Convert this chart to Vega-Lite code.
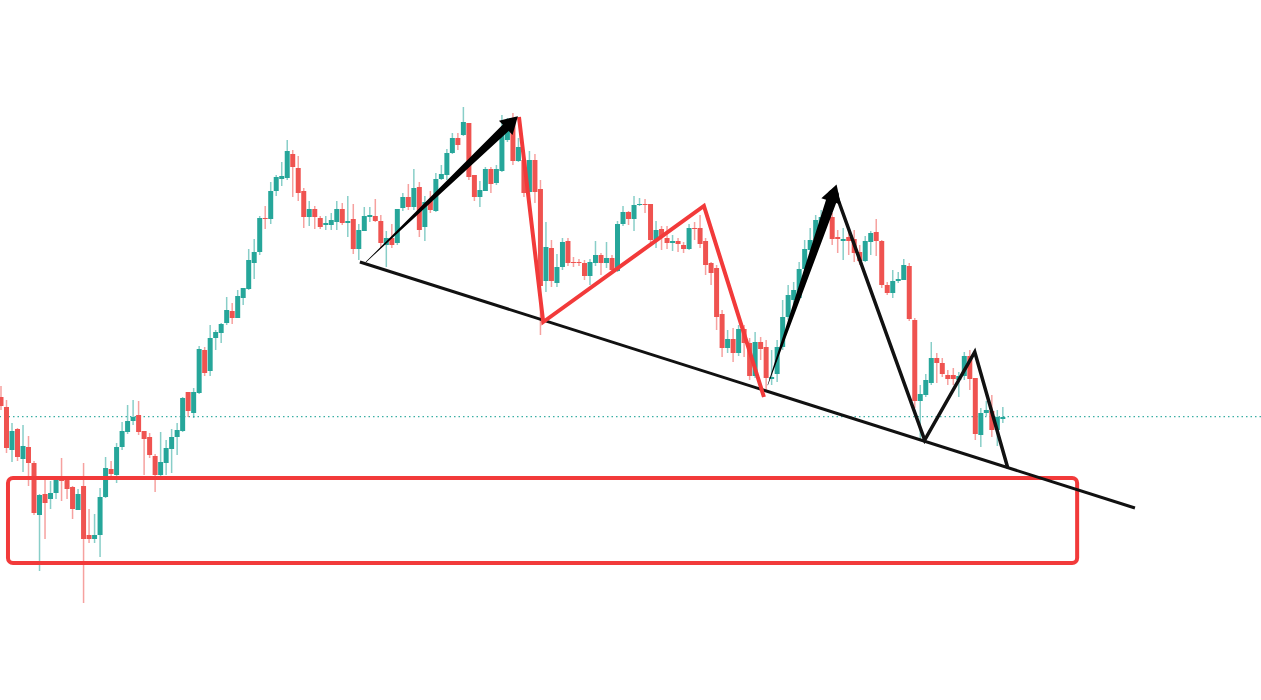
{
  "$schema": "https://vega.github.io/schema/vega-lite/v6.json",
  "autosize": {"type": "none"},
  "width": 1261,
  "height": 700,
  "padding": 0,
  "background": "white",
  "config": {"view": {"stroke": null}},
  "datasets": {
    "candles": [
      {"t":0,"o":303,"h":314,"l":290,"c":294},
      {"t":1,"o":293,"h":300,"l":247,"c":252},
      {"t":2,"o":250,"h":277,"l":238,"c":269},
      {"t":3,"o":271,"h":272,"l":239,"c":243},
      {"t":4,"o":241,"h":275,"l":228,"c":254},
      {"t":5,"o":253,"h":264,"l":214,"c":237},
      {"t":6,"o":237,"h":239,"l":185,"c":187},
      {"t":7,"o":185,"h":206,"l":129,"c":205},
      {"t":8,"o":206,"h":220,"l":161,"c":197},
      {"t":9,"o":201,"h":219,"l":191,"c":207},
      {"t":10,"o":207,"h":224,"l":201,"c":221},
      {"t":11,"o":221,"h":242,"l":199,"c":219},
      {"t":12,"o":220,"h":224,"l":201,"c":211},
      {"t":13,"o":213,"h":214,"l":181,"c":191},
      {"t":14,"o":190,"h":211,"l":190,"c":206},
      {"t":15,"o":214,"h":237,"l":97,"c":161},
      {"t":16,"o":165,"h":191,"l":157,"c":161},
      {"t":17,"o":161,"h":186,"l":157,"c":165},
      {"t":18,"o":165,"h":212,"l":143,"c":203},
      {"t":19,"o":203,"h":243,"l":202,"c":232},
      {"t":20,"o":231,"h":239,"l":223,"c":226},
      {"t":21,"o":225,"h":257,"l":217,"c":253},
      {"t":22,"o":253,"h":278,"l":250,"c":269},
      {"t":23,"o":268,"h":295,"l":266,"c":279},
      {"t":24,"o":279,"h":300,"l":275,"c":283},
      {"t":25,"o":285,"h":299,"l":265,"c":268},
      {"t":26,"o":269,"h":269,"l":225,"c":261},
      {"t":27,"o":263,"h":267,"l":242,"c":245},
      {"t":28,"o":244,"h":246,"l":208,"c":225},
      {"t":29,"o":225,"h":268,"l":220,"c":238},
      {"t":30,"o":237,"h":260,"l":225,"c":252},
      {"t":31,"o":251,"h":271,"l":227,"c":263},
      {"t":32,"o":263,"h":277,"l":245,"c":270},
      {"t":33,"o":269,"h":303,"l":268,"c":302},
      {"t":34,"o":308,"h":308,"l":283,"c":289},
      {"t":35,"o":287,"h":312,"l":282,"c":308},
      {"t":36,"o":307,"h":354,"l":306,"c":351},
      {"t":37,"o":350,"h":353,"l":324,"c":327},
      {"t":38,"o":329,"h":375,"l":324,"c":362},
      {"t":39,"o":362,"h":370,"l":350,"c":368},
      {"t":40,"o":367,"h":377,"l":357,"c":376},
      {"t":41,"o":377,"h":403,"l":375,"c":390},
      {"t":42,"o":389,"h":397,"l":376,"c":382},
      {"t":43,"o":382,"h":410,"l":382,"c":404},
      {"t":44,"o":402,"h":412,"l":395,"c":412},
      {"t":45,"o":411,"h":451,"l":410,"c":440},
      {"t":46,"o":437,"h":461,"l":421,"c":448},
      {"t":47,"o":448,"h":484,"l":445,"c":482},
      {"t":48,"o":482,"h":494,"l":471,"c":481},
      {"t":49,"o":481,"h":518,"l":476,"c":509},
      {"t":50,"o":509,"h":525,"l":504,"c":523},
      {"t":51,"o":521,"h":538,"l":514,"c":524},
      {"t":52,"o":522,"h":560,"l":520,"c":549},
      {"t":53,"o":546,"h":550,"l":503,"c":533},
      {"t":54,"o":532,"h":544,"l":499,"c":507},
      {"t":55,"o":509,"h":512,"l":472,"c":483},
      {"t":56,"o":483,"h":499,"l":474,"c":491},
      {"t":57,"o":491,"h":494,"l":471,"c":483},
      {"t":58,"o":482,"h":484,"l":471,"c":473},
      {"t":59,"o":475,"h":484,"l":470,"c":477},
      {"t":60,"o":475,"h":487,"l":470,"c":480},
      {"t":61,"o":478,"h":499,"l":470,"c":491},
      {"t":62,"o":491,"h":497,"l":475,"c":477},
      {"t":63,"o":477,"h":504,"l":463,"c":479},
      {"t":64,"o":481,"h":496,"l":446,"c":451},
      {"t":65,"o":451,"h":476,"l":440,"c":470},
      {"t":66,"o":469,"h":493,"l":469,"c":484},
      {"t":67,"o":483,"h":493,"l":478,"c":485},
      {"t":68,"o":484,"h":501,"l":478,"c":479},
      {"t":69,"o":479,"h":485,"l":452,"c":457},
      {"t":70,"o":455,"h":469,"l":433,"c":462},
      {"t":71,"o":462,"h":476,"l":452,"c":455},
      {"t":72,"o":457,"h":491,"l":455,"c":491},
      {"t":73,"o":492,"h":507,"l":489,"c":503},
      {"t":74,"o":503,"h":516,"l":490,"c":493},
      {"t":75,"o":493,"h":531,"l":490,"c":512},
      {"t":76,"o":513,"h":518,"l":463,"c":470},
      {"t":77,"o":473,"h":504,"l":459,"c":498},
      {"t":78,"o":499,"h":509,"l":487,"c":490},
      {"t":79,"o":489,"h":527,"l":488,"c":521},
      {"t":80,"o":521,"h":535,"l":520,"c":526},
      {"t":81,"o":525,"h":551,"l":520,"c":547},
      {"t":82,"o":547,"h":567,"l":546,"c":562},
      {"t":83,"o":562,"h":567,"l":550,"c":555},
      {"t":84,"o":565,"h":593,"l":564,"c":578},
      {"t":85,"o":577,"h":577,"l":520,"c":523},
      {"t":86,"o":525,"h":525,"l":499,"c":503},
      {"t":87,"o":503,"h":519,"l":493,"c":510},
      {"t":88,"o":509,"h":533,"l":509,"c":531},
      {"t":89,"o":531,"h":533,"l":507,"c":516},
      {"t":90,"o":517,"h":535,"l":515,"c":531},
      {"t":91,"o":529,"h":585,"l":528,"c":567},
      {"t":92,"o":560,"h":582,"l":558,"c":575},
      {"t":93,"o":582,"h":587,"l":535,"c":539},
      {"t":94,"o":539,"h":562,"l":538,"c":553},
      {"t":95,"o":540,"h":550,"l":503,"c":507},
      {"t":96,"o":508,"h":549,"l":504,"c":540},
      {"t":97,"o":540,"h":546,"l":497,"c":508},
      {"t":98,"o":511,"h":520,"l":365,"c":414},
      {"t":99,"o":419,"h":478,"l":408,"c":453},
      {"t":100,"o":452,"h":460,"l":413,"c":419},
      {"t":101,"o":417,"h":446,"l":413,"c":433},
      {"t":102,"o":433,"h":462,"l":430,"c":458},
      {"t":103,"o":459,"h":462,"l":434,"c":437},
      {"t":104,"o":438,"h":443,"l":433,"c":437},
      {"t":105,"o":438,"h":441,"l":434,"c":437},
      {"t":106,"o":437,"h":440,"l":420,"c":424},
      {"t":107,"o":424,"h":441,"l":415,"c":438},
      {"t":108,"o":437,"h":459,"l":434,"c":445},
      {"t":109,"o":445,"h":447,"l":425,"c":437},
      {"t":110,"o":437,"h":458,"l":432,"c":442},
      {"t":111,"o":442,"h":445,"l":428,"c":430},
      {"t":112,"o":429,"h":479,"l":428,"c":476},
      {"t":113,"o":476,"h":494,"l":474,"c":488},
      {"t":114,"o":488,"h":489,"l":475,"c":481},
      {"t":115,"o":481,"h":504,"l":469,"c":495},
      {"t":116,"o":495,"h":502,"l":494,"c":496},
      {"t":117,"o":496,"h":501,"l":487,"c":495},
      {"t":118,"o":496,"h":496,"l":457,"c":460},
      {"t":119,"o":460,"h":479,"l":452,"c":470},
      {"t":120,"o":471,"h":474,"l":450,"c":463},
      {"t":121,"o":462,"h":474,"l":451,"c":457},
      {"t":122,"o":457,"h":465,"l":449,"c":459},
      {"t":123,"o":459,"h":462,"l":448,"c":456},
      {"t":124,"o":455,"h":458,"l":447,"c":451},
      {"t":125,"o":451,"h":476,"l":450,"c":472},
      {"t":126,"o":472,"h":478,"l":460,"c":471},
      {"t":127,"o":472,"h":485,"l":452,"c":456},
      {"t":128,"o":459,"h":462,"l":425,"c":435},
      {"t":129,"o":437,"h":438,"l":415,"c":427},
      {"t":130,"o":432,"h":435,"l":370,"c":383},
      {"t":131,"o":386,"h":390,"l":343,"c":352},
      {"t":132,"o":352,"h":370,"l":347,"c":361},
      {"t":133,"o":361,"h":372,"l":338,"c":347},
      {"t":134,"o":347,"h":375,"l":344,"c":371},
      {"t":135,"o":371,"h":375,"l":343,"c":357},
      {"t":136,"o":357,"h":362,"l":320,"c":324},
      {"t":137,"o":324,"h":368,"l":322,"c":358},
      {"t":138,"o":358,"h":363,"l":340,"c":351},
      {"t":139,"o":353,"h":360,"l":310,"c":322},
      {"t":140,"o":321,"h":350,"l":315,"c":323},
      {"t":141,"o":326,"h":360,"l":318,"c":353},
      {"t":142,"o":353,"h":400,"l":350,"c":383},
      {"t":143,"o":383,"h":415,"l":380,"c":405},
      {"t":144,"o":400,"h":418,"l":395,"c":410},
      {"t":145,"o":402,"h":438,"l":400,"c":431},
      {"t":146,"o":431,"h":460,"l":425,"c":451},
      {"t":147,"o":450,"h":472,"l":447,"c":460},
      {"t":148,"o":460,"h":485,"l":455,"c":480},
      {"t":149,"o":467,"h":490,"l":464,"c":483},
      {"t":150,"o":480,"h":490,"l":478,"c":484},
      {"t":151,"o":483,"h":487,"l":455,"c":461},
      {"t":152,"o":463,"h":470,"l":447,"c":461},
      {"t":153,"o":459,"h":472,"l":440,"c":461},
      {"t":154,"o":463,"h":472,"l":445,"c":459},
      {"t":155,"o":461,"h":470,"l":438,"c":447},
      {"t":156,"o":448,"h":455,"l":435,"c":439},
      {"t":157,"o":439,"h":464,"l":438,"c":459},
      {"t":158,"o":458,"h":469,"l":445,"c":467},
      {"t":159,"o":468,"h":481,"l":444,"c":459},
      {"t":160,"o":459,"h":460,"l":412,"c":415},
      {"t":161,"o":415,"h":418,"l":405,"c":407},
      {"t":162,"o":407,"h":430,"l":402,"c":419},
      {"t":163,"o":419,"h":428,"l":417,"c":421},
      {"t":164,"o":420,"h":441,"l":420,"c":435},
      {"t":165,"o":434,"h":437,"l":379,"c":381},
      {"t":166,"o":380,"h":382,"l":292,"c":299},
      {"t":167,"o":299,"h":315,"l":260,"c":306},
      {"t":168,"o":305,"h":326,"l":303,"c":320},
      {"t":169,"o":317,"h":358,"l":315,"c":342},
      {"t":170,"o":342,"h":347,"l":317,"c":337},
      {"t":171,"o":337,"h":342,"l":323,"c":326},
      {"t":172,"o":325,"h":330,"l":315,"c":321},
      {"t":173,"o":325,"h":332,"l":315,"c":321},
      {"t":174,"o":320,"h":328,"l":303,"c":324},
      {"t":175,"o":324,"h":348,"l":320,"c":344},
      {"t":176,"o":344,"h":350,"l":310,"c":321},
      {"t":177,"o":322,"h":322,"l":260,"c":266},
      {"t":178,"o":265,"h":292,"l":253,"c":287},
      {"t":179,"o":287,"h":299,"l":284,"c":290},
      {"t":180,"o":289,"h":305,"l":263,"c":270},
      {"t":181,"o":270,"h":290,"l":254,"c":283},
      {"t":182,"o":281,"h":293,"l":277,"c":283}
    ],
    "lastprice": [{"p":283.3}],
    "trend": [{"t":65.2,"p":438},{"t":206.0,"p":192}],
    "box": [{"t1":1.27,"t2":195.5,"p1":222,"p2":137}],
    "redzig": [{"k":0,"t":94.1,"p":583},{"k":1,"t":98.5,"p":378},{"k":2,"t":127.7,"p":494},{"k":3,"t":138.6,"p":303}],
    "blackzig": [{"k":0,"t":151.7,"p":506},{"k":1,"t":167.8,"p":260},{"k":2,"t":176.9,"p":348},{"k":3,"t":182.9,"p":232}],
    "arrow1": [{"k":0,"t":66.3,"p":438,"w":0.5},{"k":1,"t":92.6,"p":577,"w":9}],
    "arrow2": [{"k":0,"t":139.3,"p":315,"w":0.5},{"k":1,"t":151.2,"p":505,"w":11}],
    "head1": [{"t":92.8,"p":578}],
    "head2": [{"t":151.3,"p":507}]
  },
  "layer": [
    {
      "data": {"name": "lastprice"},
      "mark": {"type": "rule", "color": "#26a69a", "strokeWidth": 1.2, "strokeDash": [1.5, 3], "opacity": 0.9},
      "encoding": {"y": {"field": "p", "type": "quantitative", "scale": {"domain": [0, 700], "nice": false, "zero": false}, "axis": null}}
    },
    {
      "data": {"name": "candles"},
      "mark": {"type": "rule", "strokeWidth": 1.5, "opacity": 0.55},
      "encoding": {
        "x": {"field": "t", "type": "quantitative", "scale": {"domain": [-0.18, 228.9], "nice": false, "zero": false, "padding": 0}, "axis": null},
        "y": {"field": "l", "type": "quantitative"},
        "y2": {"field": "h"},
        "color": {"condition": {"test": "datum.c >= datum.o", "value": "#26a69a"}, "value": "#ef5350"}
      }
    },
    {
      "data": {"name": "candles"},
      "mark": {"type": "bar", "size": 5},
      "encoding": {
        "x": {"field": "t", "type": "quantitative"},
        "y": {"field": "o", "type": "quantitative"},
        "y2": {"field": "c"},
        "color": {"condition": {"test": "datum.c >= datum.o", "value": "#26a69a"}, "value": "#ef5350"}
      }
    },
    {
      "data": {"name": "box"},
      "mark": {"type": "rect", "fillOpacity": 0, "stroke": "#f23a3a", "strokeWidth": 4, "cornerRadius": 5},
      "encoding": {
        "x": {"field": "t1", "type": "quantitative"},
        "x2": {"field": "t2"},
        "y": {"field": "p1", "type": "quantitative"},
        "y2": {"field": "p2"}
      }
    },
    {
      "data": {"name": "trend"},
      "mark": {"type": "line", "color": "#111111", "strokeWidth": 3},
      "encoding": {
        "x": {"field": "t", "type": "quantitative"},
        "y": {"field": "p", "type": "quantitative"}
      }
    },
    {
      "data": {"name": "redzig"},
      "mark": {"type": "line", "color": "#f23a3a", "strokeWidth": 4, "strokeJoin": "miter"},
      "encoding": {
        "x": {"field": "t", "type": "quantitative"},
        "y": {"field": "p", "type": "quantitative"},
        "order": {"field": "k"}
      }
    },
    {
      "data": {"name": "blackzig"},
      "mark": {"type": "line", "color": "#111111", "strokeWidth": 3.5, "strokeJoin": "miter"},
      "encoding": {
        "x": {"field": "t", "type": "quantitative"},
        "y": {"field": "p", "type": "quantitative"},
        "order": {"field": "k"}
      }
    },
    {
      "data": {"name": "arrow1"},
      "mark": {"type": "trail", "color": "#000000"},
      "encoding": {
        "x": {"field": "t", "type": "quantitative"},
        "y": {"field": "p", "type": "quantitative"},
        "order": {"field": "k"},
        "size": {"field": "w", "type": "quantitative", "scale": {"type": "linear", "domain": [0, 12], "range": [0, 12]}, "legend": null}
      }
    },
    {
      "data": {"name": "arrow2"},
      "mark": {"type": "trail", "color": "#000000"},
      "encoding": {
        "x": {"field": "t", "type": "quantitative"},
        "y": {"field": "p", "type": "quantitative"},
        "order": {"field": "k"},
        "size": {"field": "w", "type": "quantitative", "scale": {"type": "linear", "domain": [0, 12], "range": [0, 12]}, "legend": null}
      }
    },
    {
      "data": {"name": "head1"},
      "mark": {"type": "point", "shape": "triangle-up", "filled": true, "color": "#000000", "opacity": 1, "size": 380, "angle": 46},
      "encoding": {
        "x": {"field": "t", "type": "quantitative"},
        "y": {"field": "p", "type": "quantitative"}
      }
    },
    {
      "data": {"name": "head2"},
      "mark": {"type": "point", "shape": "triangle-up", "filled": true, "color": "#000000", "opacity": 1, "size": 420, "angle": 18},
      "encoding": {
        "x": {"field": "t", "type": "quantitative"},
        "y": {"field": "p", "type": "quantitative"}
      }
    }
  ]
}
